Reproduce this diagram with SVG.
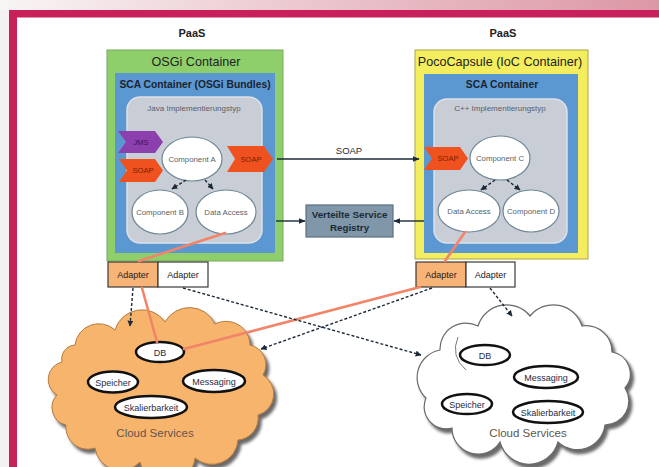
<svg xmlns="http://www.w3.org/2000/svg" width="659" height="467" viewBox="0 0 659 467">
<defs>
<linearGradient id="band" x1="0" y1="0" x2="1" y2="0">
<stop offset="0" stop-color="#f8f5f5"/>
<stop offset="0.45" stop-color="#ecc8cf"/>
<stop offset="1" stop-color="#dc97a5"/>
</linearGradient>
<filter id="shadow" x="-10%" y="-10%" width="125%" height="130%">
<feDropShadow dx="3" dy="4" stdDeviation="1.5" flood-color="#505050" flood-opacity="0.85"/>
</filter>
<marker id="tri" viewBox="0 0 10 10" refX="9" refY="5" markerWidth="6" markerHeight="6" markerUnits="userSpaceOnUse" orient="auto">
<path d="M0,0 L10,5 L0,10 Z" fill="#1c2a38"/>
</marker>
<marker id="arr" viewBox="0 0 10 10" refX="9" refY="5" markerWidth="7" markerHeight="7" markerUnits="userSpaceOnUse" orient="auto">
<path d="M0,1 L10,5 L0,9 Z" fill="#1c2a38"/>
</marker>
</defs>
<style>
text{font-family:"Liberation Sans",Arial,sans-serif;text-anchor:middle}
.paas{font-size:11px;font-weight:bold;fill:#222}
.ttl{font-size:12.6px;fill:#222}
.sca{font-size:10.3px;font-weight:bold;fill:#1b2430}
.impl{font-size:8px;fill:#5a5f68}
.comp{fill:#fff;stroke:#6e8796;stroke-width:1.2}
.ctxt{font-size:7.8px;fill:#5a5f68}
.chev{font-size:7.6px}
.adp{stroke:#3a3a3a;stroke-width:1.2}
.atxt{font-size:9px;fill:#222}
.svc{fill:#fff;stroke:#111;stroke-width:2.5}
.stxt{font-size:9px;fill:#1f2a44}
.cs{font-size:11.5px;fill:#5e564c}
.dash{fill:none;stroke:#1c2a38;stroke-width:1.4;stroke-dasharray:3 2}
.solid{fill:none;stroke:#1c2a38;stroke-width:1.4}
.org{fill:none;stroke:#f2846a;stroke-width:2.6;stroke-linecap:round}
</style>
<!-- frame -->
<rect x="0" y="0" width="659" height="467" fill="#ffffff"/>
<rect x="0" y="0" width="659" height="10" fill="url(#band)"/>
<rect x="0" y="10" width="9" height="457" fill="#f3f1f1"/>
<rect x="9" y="10" width="650" height="7.5" fill="#c8205a"/>
<rect x="9" y="10" width="8" height="457" fill="#c8205a"/>

<text class="paas" x="192" y="37">PaaS</text>
<text class="paas" x="503" y="37">PaaS</text>

<!-- left container -->
<g id="osgi-container">
<rect x="107" y="50" width="176" height="211" fill="#8fcf6b" stroke="#76a85a" stroke-width="1"/>
<text class="ttl" x="196" y="66">OSGi Container</text>
<rect x="115" y="73" width="160" height="180" fill="#5b98d2"/>
<text class="sca" x="195" y="88">SCA Container (OSGi Bundles)</text>
<rect x="127" y="97" width="135" height="146" rx="13" fill="#c9cdd6" stroke="#dde0e7" stroke-width="1.5"/>
<text class="impl" x="194" y="111">Java Implementierungstyp</text>
</g>
<g id="jms-in">
<polygon points="118,131 155,131 163,142 155,153 118,153 126,142" fill="#8b40ae"/>
<text class="chev" x="141" y="145" fill="#3f0f55">JMS</text>
</g>
<g id="soap-in-left">
<polygon points="119,159 155,159 163,170.5 155,182 119,182 127,170.5" fill="#f0521f"/>
<text class="chev" x="143" y="173" fill="#7a1f00">SOAP</text>
</g>
<g id="soap-out-left">
<polygon points="227,146 264,146 273,159 264,172 227,172 235,159" fill="#f0521f"/>
<text class="chev" x="251" y="162" fill="#7a1f00">SOAP</text>
</g>
<g id="component-a">
<ellipse class="comp" cx="192" cy="159" rx="30" ry="22"/>
<text class="ctxt" x="192" y="162">Component A</text>
</g>
<g id="component-b">
<ellipse class="comp" cx="160" cy="212" rx="28" ry="22"/>
<text class="ctxt" x="160" y="215">Component B</text>
</g>
<g id="data-access-left">
<ellipse class="comp" cx="226" cy="212" rx="30" ry="22"/>
<text class="ctxt" x="226" y="215">Data Access</text>
</g>
<g id="adapter-left-1">
<rect class="adp" x="108" y="262" width="50" height="25" fill="#f8b476"/>
<text class="atxt" x="133" y="278">Adapter</text>
</g>
<g id="adapter-left-2">
<rect class="adp" x="158" y="262" width="50" height="25" fill="#ffffff"/>
<text class="atxt" x="183" y="278">Adapter</text>
</g>

<!-- right container -->
<g id="poco-container">
<rect x="415" y="50" width="173" height="209" fill="#f4ee5e" stroke="#a9a34a" stroke-width="1"/>
<text class="ttl" x="500" y="66">PocoCapsule (IoC Container)</text>
<rect x="424" y="74" width="154" height="179" fill="#5b98d2"/>
<text class="sca" x="502" y="88">SCA Container</text>
<rect x="434" y="99" width="133" height="144" rx="13" fill="#c9cdd6" stroke="#dde0e7" stroke-width="1.5"/>
<text class="impl" x="500" y="111">C++ Implementierungstyp</text>
</g>
<g id="soap-in-right">
<polygon points="424,147 460,147 468,158.5 460,170 424,170 432,158.5" fill="#f0521f"/>
<text class="chev" x="448" y="161" fill="#7a1f00">SOAP</text>
</g>
<g id="component-c">
<ellipse class="comp" cx="500" cy="158" rx="30" ry="22"/>
<text class="ctxt" x="500" y="161">Component C</text>
</g>
<g id="data-access-right">
<ellipse class="comp" cx="469" cy="211" rx="31" ry="21"/>
<text class="ctxt" x="469" y="214">Data Access</text>
</g>
<g id="component-d">
<ellipse class="comp" cx="531" cy="211" rx="28" ry="21"/>
<text class="ctxt" x="531" y="214">Component D</text>
</g>
<g id="adapter-right-1">
<rect class="adp" x="416" y="262" width="50" height="25" fill="#f8b476"/>
<text class="atxt" x="441" y="278">Adapter</text>
</g>
<g id="adapter-right-2">
<rect class="adp" x="466" y="262" width="49" height="25" fill="#ffffff"/>
<text class="atxt" x="490.5" y="278">Adapter</text>
</g>

<!-- registry -->
<g id="registry">
<rect x="306" y="205" width="87" height="32" fill="#7f97a8" stroke="#5b6f7e" stroke-width="1.2"/>
<text x="349.5" y="218" style="font-size:9.8px;font-weight:bold;fill:#1e2a36">Verteilte Service</text>
<text x="349.5" y="231" style="font-size:9.8px;font-weight:bold;fill:#1e2a36">Registry</text>
</g>

<!-- left cloud -->
<g id="cloud-left">
<path d="M75 345 A24 24 0 0 1 115 330 A28 28 0 0 1 165 322 A28 28 0 0 1 215 324 A24 24 0 0 1 250 345 A20 20 0 0 1 263 375 A22 22 0 0 1 258 415 A22 22 0 0 1 238 440 A26 26 0 0 1 195 458 A28 28 0 0 1 140 462 A26 26 0 0 1 95 448 A22 22 0 0 1 66 425 A18 18 0 0 1 57 395 A18 18 0 0 1 62 362 A14 14 0 0 1 75 345 Z" fill="#f7b46c" stroke="#b47a3c" stroke-width="1" filter="url(#shadow)"/>
<text class="cs" x="155" y="437">Cloud Services</text>
</g>
<g id="db-left"><ellipse class="svc" cx="160" cy="352" rx="24" ry="10"/><text class="stxt" x="160" y="355.5">DB</text></g>
<g id="speicher-left"><ellipse class="svc" cx="113" cy="382" rx="25" ry="10.5"/><text class="stxt" x="113" y="385.5">Speicher</text></g>
<g id="messaging-left"><ellipse class="svc" cx="214" cy="381" rx="31" ry="11"/><text class="stxt" x="214" y="384.5">Messaging</text></g>
<g id="skalierbarkeit-left"><ellipse class="svc" cx="151" cy="407" rx="36" ry="11"/><text class="stxt" x="151" y="410.5">Skalierbarkeit</text></g>

<!-- right cloud -->
<g id="cloud-right">
<path d="M440 350 A26 26 0 0 1 478 326 A30 30 0 0 1 530 316 A30 30 0 0 1 582 326 A26 26 0 0 1 612 352 A22 22 0 0 1 625 388 A24 24 0 0 1 605 425 A28 28 0 0 1 558 442 A30 30 0 0 1 500 442 A26 26 0 0 1 452 428 A22 22 0 0 1 426 398 A28 28 0 0 1 440 350 Z" fill="#ffffff" stroke="#6a6a6a" stroke-width="1.2" filter="url(#shadow)"/>
<path d="M458 337 Q450 356 466 370" fill="none" stroke="#7a7a7a" stroke-width="1"/>
<text class="cs" x="528" y="437">Cloud Services</text>
</g>
<g id="db-right"><ellipse class="svc" cx="485" cy="355" rx="25" ry="10"/><text class="stxt" x="485" y="358.5">DB</text></g>
<g id="messaging-right"><ellipse class="svc" cx="546" cy="377" rx="32" ry="11"/><text class="stxt" x="546" y="380.5">Messaging</text></g>
<g id="speicher-right"><ellipse class="svc" cx="467" cy="404" rx="25" ry="10"/><text class="stxt" x="467" y="407.5">Speicher</text></g>
<g id="skalierbarkeit-right"><ellipse class="svc" cx="548" cy="412" rx="35" ry="11"/><text class="stxt" x="548" y="415.5">Skalierbarkeit</text></g>

<!-- connectors -->
<g id="connectors">
<line class="dash" x1="186" y1="180" x2="172" y2="189" marker-end="url(#tri)"/>
<line class="dash" x1="205" y1="180" x2="213" y2="189" marker-end="url(#tri)"/>
<line class="dash" x1="495" y1="180" x2="481" y2="190" marker-end="url(#tri)"/>
<line class="dash" x1="507" y1="180" x2="520" y2="190" marker-end="url(#tri)"/>
<line class="solid" x1="277" y1="159" x2="419" y2="159" marker-end="url(#arr)"/>
<text x="349" y="154" style="font-size:9.5px;fill:#1e2a36">SOAP</text>
<line class="solid" x1="276" y1="221" x2="305" y2="221" marker-end="url(#arr)"/>
<line class="solid" x1="424" y1="221" x2="394" y2="221" marker-end="url(#arr)"/>
<line class="org" x1="225" y1="233" x2="139" y2="261"/>
<line class="org" x1="142" y1="288" x2="157" y2="342"/>
<line class="org" x1="465" y1="232" x2="445" y2="261"/>
<line class="org" x1="420" y1="287" x2="184" y2="349"/>
<line class="dash" x1="133" y1="288" x2="130" y2="326" marker-end="url(#tri)"/>
<line class="dash" x1="183" y1="288" x2="421" y2="355" marker-end="url(#tri)"/>
<line class="dash" x1="432" y1="288" x2="261" y2="349" marker-end="url(#tri)"/>
<line class="dash" x1="490" y1="288" x2="512" y2="316" marker-end="url(#tri)"/>
</g>
</svg>
